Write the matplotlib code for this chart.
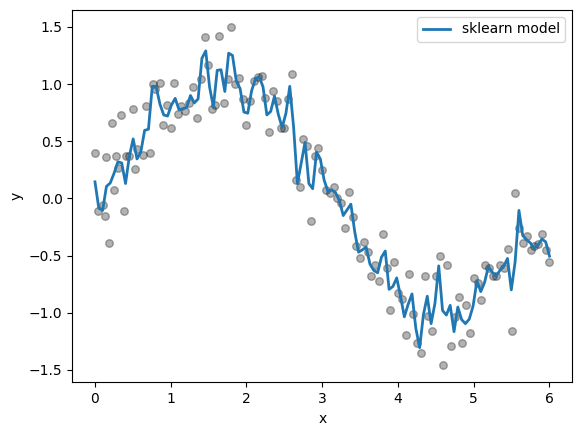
import numpy as np
import matplotlib
matplotlib.use("Agg")
import matplotlib.pyplot as plt

x_obs = [0.00, 0.04, 0.10, 0.13, 0.15, 0.19, 0.22, 0.25, 0.28, 0.31, 0.35, 0.38, 0.41, 0.45,
         0.50, 0.53, 0.56, 0.64, 0.68, 0.72, 0.76, 0.79, 0.86, 0.90, 0.95, 1.00, 1.04, 1.09,
         1.14, 1.19, 1.24, 1.30, 1.35, 1.40, 1.45, 1.49, 1.55, 1.59, 1.64, 1.70, 1.75, 1.80,
         1.85, 1.90, 1.95, 2.00, 2.05, 2.10, 2.15, 2.20, 2.25, 2.30, 2.35, 2.40, 2.45, 2.50,
         2.55, 2.60, 2.65, 2.70, 2.75, 2.80, 2.85, 2.90, 2.95, 3.00, 3.05, 3.10, 3.15, 3.20,
         3.25, 3.30, 3.35, 3.40, 3.45, 3.50, 3.55, 3.60, 3.65, 3.70, 3.75, 3.80, 3.85, 3.90,
         3.95, 4.00, 4.05, 4.10, 4.15, 4.20, 4.25, 4.30, 4.35, 4.40, 4.45, 4.50, 4.55, 4.60,
         4.65, 4.70, 4.75, 4.80, 4.85, 4.90, 4.95, 5.00, 5.05, 5.10, 5.15, 5.20, 5.25, 5.30,
         5.35, 5.40, 5.45, 5.50, 5.55, 5.60, 5.65, 5.70, 5.75, 5.80, 5.85, 5.90, 5.95, 6.00]
y_obs = [0.40, -0.11, -0.06, -0.15, 0.36, -0.39, 0.66, 0.07, 0.37, 0.27, 0.73, -0.11, 0.37, 0.37,
         0.78, 0.26, 0.43, 0.38, 0.81, 0.40, 1.00, 0.96, 1.01, 0.64, 0.82, 0.62, 1.01, 0.74,
         0.81, 0.76, 0.83, 0.97, 0.70, 1.04, 1.41, 1.17, 0.78, 0.82, 1.42, 0.83, 1.04, 1.50,
         1.00, 1.05, 0.87, 0.64, 0.85, 1.03, 1.06, 1.07, 0.88, 0.58, 0.94, 0.85, 0.62, 0.62,
         0.87, 1.09, 0.16, 0.10, 0.52, 0.46, -0.20, 0.37, 0.44, 0.25, 0.07, 0.05, 0.10, 0.00,
         -0.04, -0.26, 0.06, -0.16, -0.42, -0.52, -0.38, -0.47, -0.68, -0.58, -0.72, -0.31, -0.61, -0.98,
         -0.56, -0.83, -0.88, -1.19, -0.66, -1.01, -1.26, -1.35, -0.68, -1.03, -1.16, -0.68, -0.50, -1.46,
         -0.58, -1.29, -1.04, -0.86, -1.26, -0.93, -1.18, -0.70, -0.74, -0.89, -0.58, -0.61, -0.68, -0.68,
         -0.58, -0.61, -0.44, -1.16, 0.05, -0.26, -0.39, -0.33, -0.45, -0.42, -0.40, -0.31, -0.45, -0.56]

x_obs = np.array(x_obs)
y_obs = np.array(y_obs)

# model prediction: 2-nearest-neighbour fit of the observed points
x_grid = np.linspace(0, 6, 120)
idx = np.argsort(np.abs(x_grid[:, None] - x_obs[None, :]), axis=1)[:, :2]
y_pred = y_obs[idx].mean(axis=1)

fig, ax = plt.subplots(figsize=(5.78, 4.32), dpi=100)
ax.scatter(x_obs, y_obs, color="black", alpha=0.3, s=30)
ax.plot(x_grid, y_pred, color="#1f77b4", lw=2, label="sklearn model")
ax.set_xlabel("x")
ax.set_ylabel("y")
ax.set_yticks([-1.5, -1.0, -0.5, 0.0, 0.5, 1.0, 1.5])
ax.legend(loc="upper right")
fig.subplots_adjust(left=0.125, right=0.99, top=0.977, bottom=0.115)
fig.savefig("out.png", dpi=100)
